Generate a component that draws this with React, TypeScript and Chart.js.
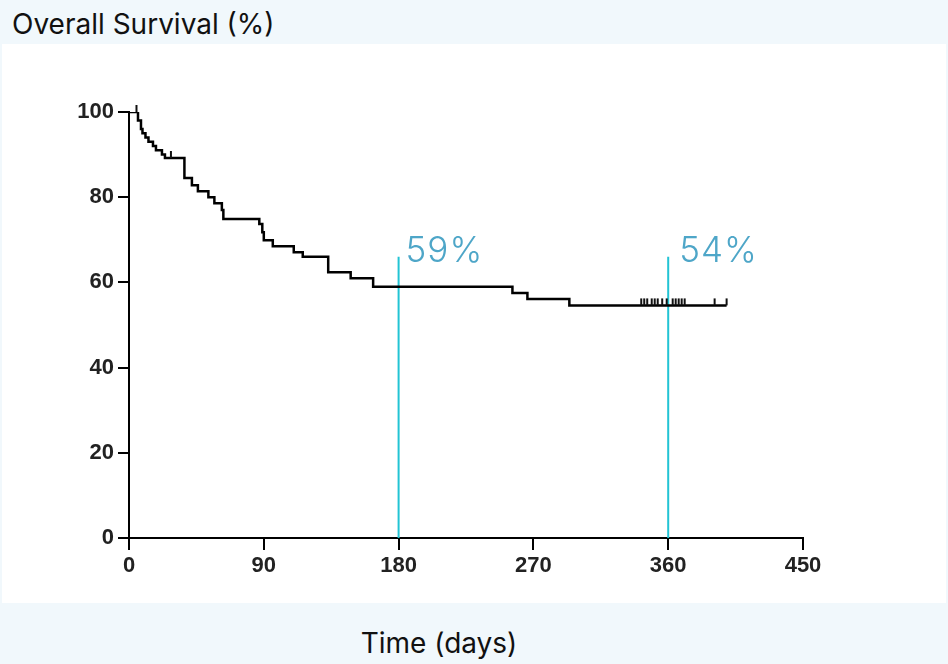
import React, { useEffect, useRef } from 'react';
import { Chart, registerables } from 'chart.js';

Chart.register(...registerables);

// Kaplan-Meier steps (day, survival %)
const stepDays = [0, 6, 8, 9, 11, 13, 16, 18, 22, 24, 37, 42, 46, 53, 57, 62, 63, 87, 89, 90, 96, 110, 116, 133, 148, 163, 256, 266, 294, 399];
const stepSurv = [100, 98, 96, 95, 94, 93, 92, 91, 90, 89.2, 84.5, 82.8, 81.4, 80, 78.6, 77, 74.9, 73.7, 71.8, 69.9, 68.5, 67.1, 66, 62.4, 61, 59, 57.5, 56.1, 54.6, 54.6];

// Censored observations
const censorDays = [5, 28, 342, 344, 346, 349, 351, 353, 356, 359, 363, 365, 367, 369, 371, 391, 399];
const censorSurv = [100, 89.2, 54.6, 54.6, 54.6, 54.6, 54.6, 54.6, 54.6, 54.6, 54.6, 54.6, 54.6, 54.6, 54.6, 54.6, 54.6];

// Landmark markers
const markerDays = [180, 360];
const markerTop = [66, 66];
const markerLabels = ['59%', '54%'];
const markerLabelLevel = [64.8, 64.8];

const xTicks = [0, 90, 180, 270, 360, 450];
const yTicks = [0, 20, 40, 60, 80, 100];

const titleText = 'Overall Survival (%)';
const xTitleText = 'Time (days)';

const markerColor = 'rgb(34,196,212)';
const markerTextColor = 'rgb(78,166,200)';
const markerLabelDx = [7, 11];

export default function App() {
  const canvasRef = useRef<HTMLCanvasElement | null>(null);

  useEffect(() => {
    document.body.style.margin = '0';
    const canvas = canvasRef.current;
    if (!canvas) return;

    const overlay = {
      id: 'kmOverlay',
      afterDatasetsDraw(chart: any) {
        const ctx = chart.ctx;
        const xs = chart.scales.x;
        const ys = chart.scales.y;
        ctx.save();
        // censor ticks
        ctx.strokeStyle = '#111';
        ctx.lineWidth = 2;
        for (let i = 0; i < censorDays.length; i++) {
          const px = xs.getPixelForValue(censorDays[i]);
          const py = ys.getPixelForValue(censorSurv[i]);
          ctx.beginPath();
          ctx.moveTo(px, py);
          ctx.lineTo(px, py - 7);
          ctx.stroke();
        }
        // marker labels
        ctx.fillStyle = markerTextColor;
        ctx.font = '300 35px Inter, "Noto Sans", sans-serif';
        try {
          (ctx as any).letterSpacing = '1px';
        } catch (e) {}
        ctx.textAlign = 'left';
        ctx.textBaseline = 'alphabetic';
        for (let i = 0; i < markerDays.length; i++) {
          const px = xs.getPixelForValue(markerDays[i]) + markerLabelDx[i];
          const py = ys.getPixelForValue(markerLabelLevel[i]);
          ctx.fillText(markerLabels[i], px, py);
        }
        ctx.restore();
      },
    };

    const markerDatasets = markerDays.map((d, i) => ({
      type: 'line' as const,
      data: [
        { x: d, y: 0 },
        { x: d, y: markerTop[i] },
      ],
      borderColor: markerColor,
      borderWidth: 2,
      pointRadius: 0,
      fill: false,
      order: 2,
    }));

    const tickFont = { family: '"Liberation Sans", Arial, sans-serif', size: 22, weight: 'bold' };

    const chart = new Chart(canvas, {
      type: 'line',
      data: {
        datasets: [
          {
            data: stepDays.map((d, i) => ({ x: d, y: stepSurv[i] })),
            borderColor: '#000',
            borderWidth: 2.5,
            stepped: true,
            pointRadius: 0,
            fill: false,
            order: 1,
          },
          ...markerDatasets,
        ],
      },
      options: {
        animation: false,
        responsive: false,
        maintainAspectRatio: false,
        layout: { padding: { left: 67, right: 143, top: 68, bottom: 20 } },
        plugins: {
          legend: { display: false },
          tooltip: { enabled: false },
          title: { display: false },
        },
        scales: {
          x: {
            type: 'linear',
            min: 0,
            max: 450,
            afterFit: (s: any) => {
              s.height = 45;
            },
            afterBuildTicks: (s: any) => {
              s.ticks = xTicks.map((v) => ({ value: v }));
            },
            ticks: {
              color: '#222',
              font: tickFont,
              padding: 3,
              maxRotation: 0,
            },
            grid: {
              display: true,
              drawOnChartArea: false,
              drawTicks: true,
              tickLength: 12,
              tickColor: '#000',
              lineWidth: 2,
            },
            border: { display: true, color: '#000', width: 2 },
          },
          y: {
            type: 'linear',
            min: 0,
            max: 100,
            afterFit: (s: any) => {
              s.width = 60;
            },
            afterBuildTicks: (s: any) => {
              s.ticks = yTicks.map((v) => ({ value: v }));
            },
            ticks: {
              color: '#222',
              font: tickFont,
              padding: 4,
            },
            grid: {
              display: true,
              drawOnChartArea: false,
              drawTicks: true,
              tickLength: 11,
              tickColor: '#000',
              lineWidth: 2,
            },
            border: { display: true, color: '#000', width: 2 },
          },
        },
      },
      plugins: [overlay],
    } as any);

    return () => chart.destroy();
  }, []);

  return (
    <div
      style={{
        position: 'fixed',
        left: 0,
        top: 0,
        width: 948,
        height: 664,
        background: 'rgb(241,248,252)',
        fontFamily: 'Inter, "Noto Sans", sans-serif',
        overflow: 'hidden',
      }}
    >
      <div
        style={{
          position: 'absolute',
          left: 12,
          top: 4,
          fontSize: 28,
          lineHeight: '40px',
          color: '#111',
          whiteSpace: 'nowrap',
        }}
      >
        {titleText}
      </div>
      <div
        style={{
          position: 'absolute',
          left: 2,
          top: 44,
          width: 944,
          height: 559,
          background: '#fff',
        }}
      >
        <canvas ref={canvasRef} width={944} height={559} style={{ display: 'block', width: 944, height: 559 }} />
      </div>
      <div
        style={{
          position: 'absolute',
          left: 0,
          width: 878,
          top: 623,
          textAlign: 'center',
          fontSize: 28,
          lineHeight: '40px',
          color: '#111',
          whiteSpace: 'nowrap',
        }}
      >
        {xTitleText}
      </div>
    </div>
  );
}
